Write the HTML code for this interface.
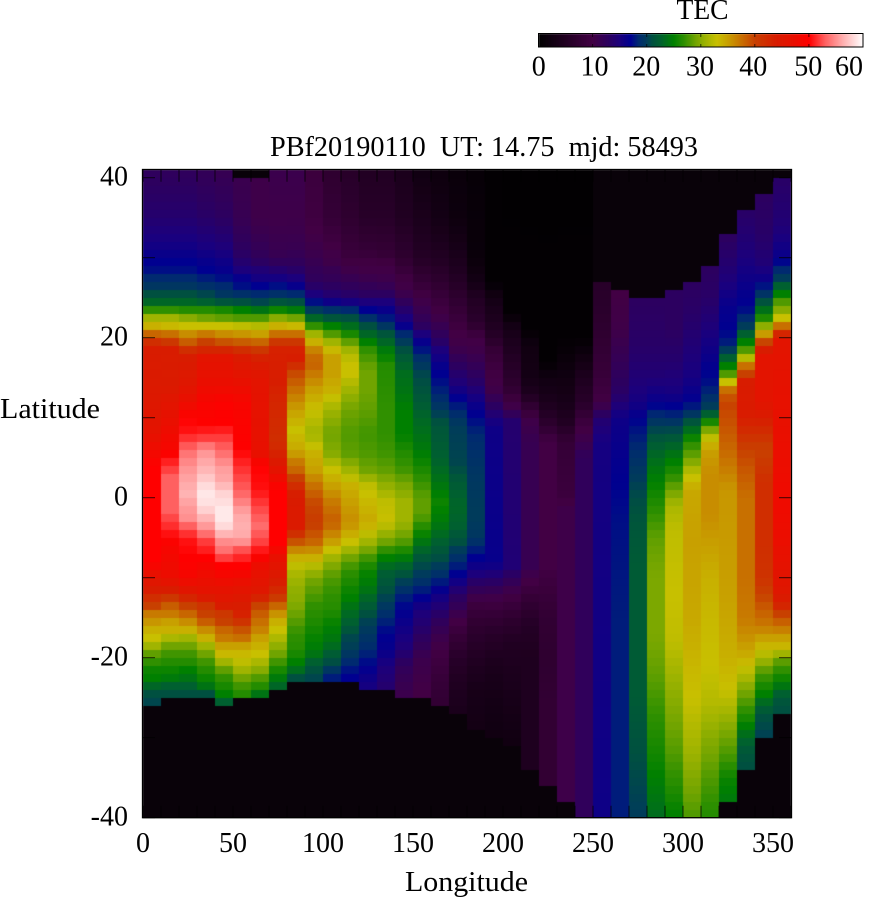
<!DOCTYPE html>
<html><head><meta charset="utf-8">
<style>
html,body{margin:0;padding:0;background:#fff;width:877px;height:900px;overflow:hidden}
#c{position:absolute;left:0;top:0}
svg{position:absolute;left:0;top:0}
text{font-family:"Liberation Serif","DejaVu Serif",serif;font-size:28px;fill:#000}
</style></head><body>
<canvas id="c" width="877" height="900"></canvas>
<svg width="877" height="900" xmlns="http://www.w3.org/2000/svg">
<text x="702.5" y="19" text-anchor="middle" textLength="52" lengthAdjust="spacingAndGlyphs">TEC</text>
<rect x="538.5" y="33.5" width="324.5" height="13.5" fill="none" stroke="#000" stroke-width="1"/>
<g stroke="#000" stroke-width="1" opacity="0.7">
<line x1="592.6" y1="34" x2="592.6" y2="37"/><line x1="592.6" y1="44" x2="592.6" y2="47"/>
<line x1="646.7" y1="34" x2="646.7" y2="37"/><line x1="646.7" y1="44" x2="646.7" y2="47"/>
<line x1="700.8" y1="34" x2="700.8" y2="37"/><line x1="700.8" y1="44" x2="700.8" y2="47"/>
<line x1="754.8" y1="34" x2="754.8" y2="37"/><line x1="754.8" y1="44" x2="754.8" y2="47"/>
<line x1="808.9" y1="34" x2="808.9" y2="37"/><line x1="808.9" y1="44" x2="808.9" y2="47"/>
</g>
<text x="538.8" y="75.5" text-anchor="middle">0</text>
<text x="594.5" y="75.5" text-anchor="middle">10</text>
<text x="646.2" y="75.5" text-anchor="middle">20</text>
<text x="700" y="75.5" text-anchor="middle">30</text>
<text x="753.3" y="75.5" text-anchor="middle">40</text>
<text x="808.3" y="75.5" text-anchor="middle">50</text>
<text x="849" y="75.5" text-anchor="middle">60</text>
<text x="270" y="156" textLength="428" lengthAdjust="spacingAndGlyphs">PBf20190110&#160;&#160;UT: 14.75&#160;&#160;mjd: 58493</text>
<text x="128" y="185.5" text-anchor="end">40</text>
<text x="128" y="345.5" text-anchor="end">20</text>
<text x="128" y="505.5" text-anchor="end">0</text>
<text x="128" y="665.5" text-anchor="end">-20</text>
<text x="128" y="825.5" text-anchor="end">-40</text>
<text x="0" y="418" textLength="100" lengthAdjust="spacingAndGlyphs">Latitude</text>
<text x="143" y="852" text-anchor="middle">0</text>
<text x="233" y="852" text-anchor="middle">50</text>
<text x="323" y="852" text-anchor="middle">100</text>
<text x="413" y="852" text-anchor="middle">150</text>
<text x="503" y="852" text-anchor="middle">200</text>
<text x="593" y="852" text-anchor="middle">250</text>
<text x="683" y="852" text-anchor="middle">300</text>
<text x="773" y="852" text-anchor="middle">350</text>
<text x="405" y="891" textLength="123" lengthAdjust="spacingAndGlyphs">Longitude</text>
<g id="ticks" stroke="#000" stroke-width="1" opacity="0.75"></g>
<rect x="142.5" y="169.5" width="649" height="648.2" fill="none" stroke="#000" stroke-width="1.3"/>
</svg>
<script>
(function(){
var S=[[0,0,0,0],[10,0x42,0,0x44],[13,0x2c,0,0x60],[15,0x1c,0,0x7c],[17,0,0,0x90],[18.5,0,0x2a,0x70],[20,0,0x3c,0x5a],[21,0,0x50,0x40],[22.5,0,0x60,0x30],[25,0,0x80,0],[27,0x30,0x90,0],[29,0x70,0xa4,0],[31,0xa0,0xb4,0],[33,0xc8,0xc0,0],[35,0xc8,0xa0,0],[37.5,0xc8,0x70,0],[40,0xc8,0x40,0],[44,0xd8,0x1c,0],[47,0xe8,0x10,0],[50,0xff,0,0],[53,0xff,0x60,0x60],[56,0xff,0xa8,0xa8],[60,0xff,0xff,0xff]];
function col(v){if(v<=0)return 'rgb(0,0,0)';if(v>=60)return 'rgb(255,255,255)';
for(var i=1;i<S.length;i++){if(v<=S[i][0]){var a=S[i-1],b=S[i],t=(v-a[0])/(b[0]-a[0]);
return 'rgb('+Math.round(a[1]+(b[1]-a[1])*t)+','+Math.round(a[2]+(b[2]-a[2])*t)+','+Math.round(a[3]+(b[3]-a[3])*t)+')';}}return 'rgb(255,255,255)';}
function interp(p,lat){if(lat>=p[0])return p[1];
for(var i=2;i<p.length;i+=2){if(lat>=p[i]){var t=(lat-p[i])/(p[i-2]-p[i]);return p[i+1]+(p[i-1]-p[i+1])*t;}}return p[p.length-1];}
var P=[
[41,-26,[41,12.5,35,14,31,16,29.5,17,28.5,17.5,27.5,18.5,26.5,19.5,25.5,21,24.5,23,23.5,27,22.5,31,21.5,34,20.5,38,19.5,42,18.5,44,12,45,8,46.5,5,49,4,50,-8,50,-9.5,47,-11.5,44,-12.5,42,-13.5,40,-14.5,37,-15.5,35.5,-16.5,34,-17.5,33,-18.5,31,-19.5,28.5,-20.5,27,-21.5,25.5,-22.5,25,-23.5,23,-24.5,21,-25.5,20.5]],
[41,-25,[41,12.5,35,14,31,16,29.5,17,28.5,17.5,27.5,18.5,26.5,19.5,25.5,21,24.5,23,23.5,27,22.5,31,21.5,33.5,20.5,37.5,19.5,41,18.5,44,14,44.5,10,47,6,49,4.5,51,2.5,53,-1.5,53,-4,51,-6,49,-10,47.5,-11.5,44,-12.5,41,-13.5,38.5,-14.5,37,-15.5,35,-16.5,34,-17.5,31.5,-18.5,29,-19.5,27.5,-20.5,26.5,-21.5,25.5,-22.5,24.5,-23.5,22.5,-24.5,21]],
[41,-25,[41,12.5,35,14,31,16,29.5,17,28.5,17.5,27.5,18.5,26.5,19.5,25.5,21,24.5,23,23.5,26.5,22.5,30,21.5,33,20.5,36,19.5,38.5,18.5,42,17.5,44,14,45.5,11.5,48,10,50,8.5,50.5,7,52,6,53.5,4,55,2,56,0.5,56.5,-1,55.5,-2.5,55,-4,52,-5.5,50.5,-9,49.5,-11,47,-12,44.5,-13.5,40,-14.5,38,-15.5,36,-16.5,34,-17.5,31,-18.5,29,-19.5,27.5,-20.5,26.5,-21.5,25,-22.5,24,-23.5,22.5,-24.5,21]],
[41,-25,[41,12,35,13.5,31,15.5,29.5,16.5,28.5,17,27.5,18,26.5,19,25.5,20.5,24.5,22.5,23.5,26.5,22.5,29,21.5,33,20.5,37,19.5,40,18.5,43,17.5,46,14,47.5,12,49,9,50,8.3,51,7.4,52,6,55,4.5,56,3,57,0.8,59,-1,58.5,-2.6,56.5,-3.8,55,-5.3,52,-7,50.5,-9.5,48,-12,46,-13.5,41.5,-14.5,40,-15.5,38.5,-16.5,36,-17.5,34,-18.5,31,-19.5,29,-20.5,27.5,-21.5,26.5,-22.5,25.5,-23.5,24,-24.5,21]],
[41,-26,[41,11.5,35,13,31,15,29.5,16,28.5,16.5,27.5,17.5,26.5,18.5,25.5,19.5,24.5,21.5,23.5,26,22.5,28.5,21.5,33,20.5,36,19.5,39,18.5,43,17.5,46,14,47.5,12,49.5,9.5,50,8.3,51,7.4,52,5.7,53.5,3.8,55.5,2.2,56,0.5,58,-1.5,59,-2.8,59,-3.8,58,-5.3,55,-6.7,53.5,-8.5,50,-11,47,-13.4,44.5,-14.5,41,-15.5,40,-16.5,38,-17.5,37,-18.5,35,-19.5,33.5,-20.5,31,-21.5,28.5,-22.5,27,-23.5,26,-24.5,25,-25.5,22.5]],
[40,-25,[41,11,35,11.5,30,13.5,28.5,15,27.5,16.5,26.5,17.5,25.5,19,24.5,21,23.5,25,22.5,28,21.5,32.5,20.5,35.5,19.5,38.5,18.5,42,17.5,44.5,15,46.5,12,49,6,50,4.5,51,2.8,52,0.8,53,-2,56,-4.2,56.5,-5.5,55,-6.7,52,-8.5,50,-11,46.5,-13.4,44,-14.5,43.5,-15.5,41.5,-16.5,39,-17.5,37.5,-18.5,35,-19.5,33.5,-20.5,32.5,-21.5,31,-22.5,29,-23.5,27.5,-24.5,26.5]],
[40,-25,[41,10.5,35,10.5,30,12.5,28.5,14.5,27.5,15.5,26.5,17,25.5,18.5,24.5,20.5,23.5,24,22.5,28,21.5,32,20.5,35,19.5,38,18.5,41,17.5,43.5,15,46,12,46.5,5.5,47,4,50,1,50.5,-1,52,-3.5,53.5,-5.5,52,-6.7,50.5,-8.5,47.5,-12,45,-13.4,40,-14.5,38.5,-15.5,37.5,-16.5,36.5,-17.5,35,-18.5,34,-19.5,33,-20.5,31.5,-21.5,30,-22.5,28,-23.5,26.5,-24.5,24]],
[41,-24,[41,11,35,10.5,30.5,11.5,29.5,12.5,28.5,14,27.5,15.5,26.5,17.5,25.5,19,24.5,21.5,23.5,25.5,22.5,30,21.5,34,20.5,37.5,19.5,41,18.5,43.5,15,44,12,43,7,42,5,44,3,47,1,50,-5.5,50,-7.5,47,-10,44.5,-12,42,-13.5,38,-15,34.5,-16.5,33,-18,31,-19.5,29,-20.5,27.5,-21.5,26,-22.5,24.5,-23.5,23]],
[41,-23,[41,11,35,10.5,31,11.5,29.5,12.5,28.5,13.5,27.5,15,26.5,16.5,25.5,18.5,24.5,21,23.5,24.5,22.5,29,21.5,33.5,20.5,37.5,19.5,41,18.5,43.5,17,44,16,40,15,39,13.5,37.5,11,35,8.5,33,6,34.5,4.5,37,3.5,38,2,41,1,43.5,-1,44.5,-3.5,44.5,-5,40.5,-6,37.5,-7,35,-8,33,-9.5,31.5,-11,30.5,-13,30,-15,28.5,-17,27,-19,26.5,-20.5,25,-21.5,23.5,-22.5,21]],
[41,-23,[41,9,35,9.5,30.5,11,29.5,11.5,28.5,12,27.5,12.5,26.5,13.5,25.5,15,24.5,17.5,23.5,20,22.5,23,21.5,27,20.5,31,19.5,34,18.5,36.5,17,38.5,15.5,37,13.5,35,11,33,8,31,5.5,34,3.5,35,1.5,37.5,-0.5,39.5,-3,40.5,-5.5,38,-7.5,34,-9,31,-10.5,29,-12,28,-13.5,27,-15,26.5,-17,25.5,-19,24.5,-20,23.5,-21,21.5,-22.5,20.5]],
[41,-23,[41,7,35,8,30.5,10.3,29.5,10.5,28.5,11.5,27.5,12,26.5,13,25.5,14,24.5,16,23.5,19,22.5,21.5,21.5,25,20.5,28,19.5,31,18.5,33.5,17.5,35,15.5,35,13.5,34,11,31,8,29,5.5,30,3.5,33,1.5,35,-0.5,37,-3,38.5,-5.5,35,-7.5,31,-9,29,-10,28,-12,27,-14,26.5,-16,25,-18,24,-20,21.5,-21,20.3,-22.5,18]],
[41,-23,[41,6,35,7,30,9,28.5,10.5,27.5,11.5,26.5,12.5,25.5,13.5,24.5,15.5,23.5,18.5,22.5,21,21.5,23.5,20.5,26,19.5,28.5,18.5,31,17,33,15.5,33,13.5,31,11,29,8,28,5.5,28.5,3.5,31,1.5,34,-0.5,35,-3,36,-5.5,33,-7.5,29,-9,27,-10,26.5,-11.5,25.5,-12.5,25,-14,23.5,-15.5,22.5,-17.5,20.5,-19,20,-21,18,-22.5,17]],
[41,-24,[41,5,35,6,31,8,29.5,9.5,27.5,11,25.5,13,24.5,15,23.5,17,22.5,19,21.5,21,20.5,23,19.5,25,18.5,27,16,29,13.5,29,11,28.5,8,27.5,5.5,28,3.5,29,1.5,32.5,-0.5,33.5,-3,34.5,-5.5,31,-7.5,27.5,-9,25.5,-10,25,-11.5,24,-13,22.5,-15,20.5,-17,19.5,-19,18.5,-21,17,-22.5,16,-23.5,15.5]],
[41,-24,[41,5,35,6,30.5,8,29,10,27,11,25.5,13,24.5,15,23,17,21.5,19.5,20.5,21.5,18.5,24.5,16.5,26.5,11,27,8,27,5.5,27.5,3.5,28.5,1.5,30.5,-0.5,32.5,-3,33,-5.5,29,-7.5,25,-9,22.5,-10,22,-11.5,21,-13,20,-15,18.5,-17,17,-19,16.5,-21,15,-23.5,14]],
[41,-25,[41,4,35,5,30,7,27.5,9.5,25.5,11,24.5,12.5,23,14.5,21.5,16.5,20.5,18.5,19.5,20,17.5,22,15.5,23.5,13.5,24,11,25,8,25,5.5,26.5,3.5,27.5,1.5,29.5,-0.5,31,-3,31,-5.5,28,-7.5,24.5,-9,22,-11,19.5,-13,17.5,-15,16.5,-17,15.5,-19,14.5,-21,12.5,-23,11.5,-24.5,11]],
[41,-25,[41,2.5,35,4,30,5.5,27,8,24.5,10.5,22.5,12,21.5,13,20.5,15,19.5,16.5,17.5,19,15.5,20.5,13,21.5,10,23,6,24.5,3,26.5,0,28.5,-2,28.5,-4,26,-6,23.5,-8,21,-10,19.5,-12,17.5,-14,15,-16,14,-18,12.5,-20,11,-22,10.5,-24.5,10]],
[41,-26,[41,2,35,3,30,5,27,7,24.5,9,22.5,10.5,21,12,19.5,13.5,18.5,15,16.5,16.5,14.5,17.5,12,19,9,21.5,5,22.5,2,24,-0.5,25.5,-3,24.5,-5.5,22.5,-8,20.5,-10,18.5,-12,16,-14.5,13.5,-16,12,-18,10.5,-20,9.5,-22,8.5,-25.5,7.5]],
[41,-27,[41,1.5,35,2,30,4,27,5.5,25,7,22,9,20.5,10,19,10.5,17.5,12,16,13.5,14,15,12,17.5,9,20,4,20.5,2,22,-1,23,-3.5,22.5,-5.5,21,-8,18.5,-10,16.5,-12,13.5,-14.5,11,-17.5,8,-20,6,-24,4.5,-26.5,4]],
[41,-29,[41,1,30,1.5,27,3,25,5,22,6.5,21,8,20,10,18.5,10.5,16.5,12,14.5,13.5,12,16,8,18.5,3,19.5,-2,20,-5,19.5,-7.5,17,-9.5,15,-11.5,12,-13.5,9,-16,7,-20,5,-24,3.5,-28.5,3]],
[41,-30,[41,0.5,27,0.5,25,3,22,4.5,20,6,18.5,8,16,9.5,13.5,10.5,12,12.5,9,16,-8,16.5,-10,14,-12,11,-14,8.5,-17,6,-21,4,-26,3,-29.5,2.5]],
[41,-31,[41,0.3,23,0.5,22,2.5,20,4,17,5.5,14,7,12,9.5,9.5,14,-8.5,14.5,-10.5,12,-12.5,9.5,-15,7,-18,5,-23,4,-28,3,-30.5,2.5]],
[41,-34,[41,0.3,21,0.5,19,2.5,15,3,13,4.5,12,6.5,9.5,10.5,7,11.5,-8.5,11.5,-10.5,10,-13,7.5,-16,5.5,-20,4.5,-25,4.5,-33.5,4.5]],
[41,-36,[41,0.3,17,0.5,15,2.5,12,4,9,7,7,10,-8.5,10,-12,8.5,-15,7.5,-20,7,-25,7.5,-35.5,7.5]],
[41,-38,[41,0.3,20,0.5,15,2.5,12,3.5,9.5,5,7,8,0,9,-1,10.5,-37.5,10.5]],
[41,-41,[41,0.3,20,0.5,15,4.5,12,6,9,9.5,5,12.5,-40,12.5]],
[27,-41,[26.5,6,23,6.5,19,7.5,15,8.5,12,10,10,14,7,15.5,-40,16]],
[26,-41,[25.5,10,21,10.5,17,12,13,13.5,10,16,6,16.5,2,17,-3,17.5,-15,18,-25,18,-40,18]],
[25,-41,[24.5,13,19,13.5,15,14.5,12,15.5,9,17.5,5,19,1,20.5,-3,21.5,-8,22,-25,22,-32,21,-39.5,20]],
[25,-41,[24.5,13,19,13.5,15,14.5,12,16.5,10,19,7,22,4,24,1,25.5,-2,27,-5,28.5,-10,29.5,-17,29.5,-22,28.5,-27,27,-33,25.5,-39.5,23.5]],
[26,-41,[25.5,13,21,13,17,14,13,15.5,11,17.5,9,20,6,23.5,3,26.5,1,29,-1,31.5,-4,32.5,-12,33,-18,32.5,-22,31,-27,29.5,-32,28,-36,26.5,-39.5,25]],
[27,-41,[26.5,13,23,13.5,19,14.5,15,15.5,12,17,10.5,19.5,9,22.5,7,26.5,5,29,3,32.5,1,34.5,-5,35,-15,34.5,-25,33,-33,30.5,-39.5,28]],
[29,-41,[28.5,13,25,13.5,21,15,17,16.5,14.5,17.5,13,18.5,11.5,20,10.5,22.5,9.5,26,8.5,29.5,7.5,32.5,6,35,3,36,-2,36,-6,35,-10,34,-15,33.5,-21,33,-25.5,32,-30,30,-35,28,-39.5,26.5]],
[33,-38,[32.5,13,28,14.5,24,16.5,21,17,19.5,18,18.5,20,17.5,22.5,16.5,25,15.5,28,14.5,33,13.5,37.5,12,40,9,39,5,37.5,1,35.5,-12,35,-20,34,-24,33,-27,31,-30,29,-32.5,27.5,-35,25.5,-37.5,24.5]],
[36,-34,[35.5,13.5,30,15,26,16.5,24,17,22.5,18.5,21.5,20,20.5,22.5,19.5,25,18.5,28,17.5,32,16.5,37.5,15.5,40,14.5,44,11,44.5,9,43,6,40,4,39,0,37.5,-10,37.5,-15,37,-18,35.5,-20,34,-22,32,-24,29.5,-26,27.5,-28,25.5,-30,23,-32,21.5,-33.5,21]],
[38,-30,[37.5,13,33,13.5,29.5,14.5,27.5,16,26,18.5,25,20,24,22.5,23,25,22,27.5,21,33,20,37.5,19,42,18,46,12,46,9,43,6,40,2,42,-5,42,-10,41.5,-12,40,-14,38.5,-16,37,-17.5,35,-19,33,-20.5,30.5,-21.5,28.5,-23,26.5,-24.5,25,-26,22.5,-27.5,21,-29.5,20.3]],
[40,-27,[39.5,13.5,34,14.5,30,16.5,28.5,18.5,27.5,20,26.5,22.5,25.5,25,24.5,28,23.5,30,22.5,33,21.5,37.5,20.5,43,19.5,46,10,47,0,48,-5,47.5,-10,46,-12,45,-13.5,43,-14.5,40,-16,37.5,-17.5,35,-19,33,-20,29,-21.5,27,-23,25,-24.5,22.5,-26,21]]
];
var cv=document.getElementById('c'),g=cv.getContext('2d');
g.fillStyle='#fff';g.fillRect(0,0,877,900);
var ND='rgb(9,2,9)';
for(var c=0;c<36;c++){
 var x0=Math.round(143+18*c),x1=Math.round(143+18*(c+1));
 var d=P[c];
 for(var L=40;L>=-40;L--){
  var y0=Math.round(497.7-8*(L+1)),y1=Math.round(497.7-8*L);
  if(L+1>d[0]||L<d[1])g.fillStyle=ND;else g.fillStyle=col(interp(d[2],L+0.5));
  g.fillRect(x0,y0,x1-x0,y1-y0);
 }
}
for(var px=539;px<863;px++){var v=(px+0.5-538.5)/324.5*60;g.fillStyle=col(v);g.fillRect(px,34,1,13);}
var tk=document.getElementById('ticks'),ns='http://www.w3.org/2000/svg';
function ln(a,b,c2,d2){var e=document.createElementNS(ns,'line');e.setAttribute('x1',a);e.setAttribute('y1',b);e.setAttribute('x2',c2);e.setAttribute('y2',d2);tk.appendChild(e);}
for(var lat=-40;lat<=40;lat+=10){var y=497.7-8*lat;ln(143,y,155,y);ln(791,y,779,y);}
for(var lon=0;lon<=360;lon+=10){var x=143+1.8*lon;ln(x,817.7,x,805.7);ln(x,169.7,x,181.7);}
})();
</script>
</body></html>
